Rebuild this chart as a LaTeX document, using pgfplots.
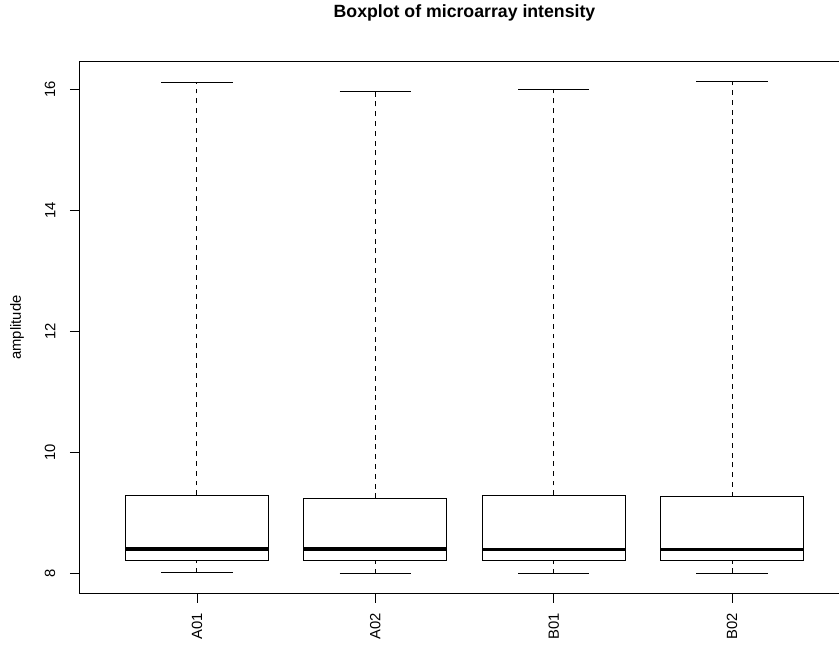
\documentclass[border=0pt]{standalone}
\usepackage{fontspec}
\setmainfont{Liberation Sans}
\usepackage{pgfplots}
\pgfplotsset{compat=1.18}
\begin{document}
\begin{tikzpicture}
\begin{scope}
\clip (0,0) rectangle (839pt,-647pt);
\begin{axis}[
  at={(79.3pt,-593.3pt)}, anchor=south west,
  scale only axis, width=770.4pt, height=531.6pt,
  xmin=0.34, xmax=4.66, ymin=7.676, ymax=16.456,
  axis line style={black, line width=0.9pt},
  xtick={1,2,3,4}, xticklabels={A01,A02,B01,B02},
  ytick={8,10,12,14,16},
  tick pos=left, tick align=outside, major tick length=9.5pt,
  every tick/.style={black, line width=0.9pt},
  /pgf/number format/assume math mode=true,
  tick label style={font=\fontsize{14.8}{17.7}\selectfont, inner sep=0pt},
  xticklabel style={rotate=90, anchor=east},
  yticklabel style={rotate=90, anchor=south},
  xticklabel shift=10.2pt,
  yticklabel shift=14.3pt,
  title={Boxplot of microarray intensity},
  title style={font=\bfseries\fontsize{17.7}{21}\selectfont, at={(axis description cs:0.5,1.0719)}, anchor=base, inner sep=0pt},
  ylabel={amplitude},
  ylabel style={font=\fontsize{14.8}{17.7}\selectfont, at={(axis description cs:-0.0757,0.5)}, anchor=base, inner sep=0pt},
  clip=false,
]
% A01
\addplot[black, line width=1pt, dash pattern=on 4.9pt off 4.9pt] coordinates {(1,9.295) (1,16.116)};
\addplot[black, line width=1pt, dash pattern=on 4.9pt off 4.9pt] coordinates {(1,8.012) (1,8.226)};
\addplot[black, line width=1pt] coordinates {(0.8,16.116) (1.2,16.116)};
\addplot[black, line width=1pt] coordinates {(0.8,8.012) (1.2,8.012)};
\addplot[black, line width=1pt] coordinates {(0.6,8.226) (1.4,8.226) (1.4,9.295) (0.6,9.295)} -- cycle;
\addplot[black, line width=3.5pt] coordinates {(0.6,8.408) (1.4,8.408)};
% A02
\addplot[black, line width=1pt, dash pattern=on 4.9pt off 4.9pt] coordinates {(2,9.245) (2,15.970)};
\addplot[black, line width=1pt, dash pattern=on 4.9pt off 4.9pt] coordinates {(2,8.000) (2,8.226)};
\addplot[black, line width=1pt] coordinates {(1.8,15.970) (2.2,15.970)};
\addplot[black, line width=1pt] coordinates {(1.8,8.000) (2.2,8.000)};
\addplot[black, line width=1pt] coordinates {(1.6,8.226) (2.4,8.226) (2.4,9.245) (1.6,9.245)} -- cycle;
\addplot[black, line width=3.5pt] coordinates {(1.6,8.410) (2.4,8.410)};
% B01
\addplot[black, line width=1pt, dash pattern=on 4.9pt off 4.9pt] coordinates {(3,9.295) (3,16.000)};
\addplot[black, line width=1pt, dash pattern=on 4.9pt off 4.9pt] coordinates {(3,7.995) (3,8.226)};
\addplot[black, line width=1pt] coordinates {(2.8,16.000) (3.2,16.000)};
\addplot[black, line width=1pt] coordinates {(2.8,7.995) (3.2,7.995)};
\addplot[black, line width=1pt] coordinates {(2.6,8.226) (3.4,8.226) (3.4,9.295) (2.6,9.295)} -- cycle;
\addplot[black, line width=3.5pt] coordinates {(2.6,8.396) (3.4,8.396)};
% B02
\addplot[black, line width=1pt, dash pattern=on 4.9pt off 4.9pt] coordinates {(4,9.270) (4,16.125)};
\addplot[black, line width=1pt, dash pattern=on 4.9pt off 4.9pt] coordinates {(4,8.006) (4,8.226)};
\addplot[black, line width=1pt] coordinates {(3.8,16.125) (4.2,16.125)};
\addplot[black, line width=1pt] coordinates {(3.8,8.006) (4.2,8.006)};
\addplot[black, line width=1pt] coordinates {(3.6,8.226) (4.4,8.226) (4.4,9.270) (3.6,9.270)} -- cycle;
\addplot[black, line width=3.5pt] coordinates {(3.6,8.400) (4.4,8.400)};
\end{axis}
\end{scope}
\pgfresetboundingbox
\useasboundingbox (0,0) rectangle (839pt,-647pt);
\end{tikzpicture}
\end{document}
